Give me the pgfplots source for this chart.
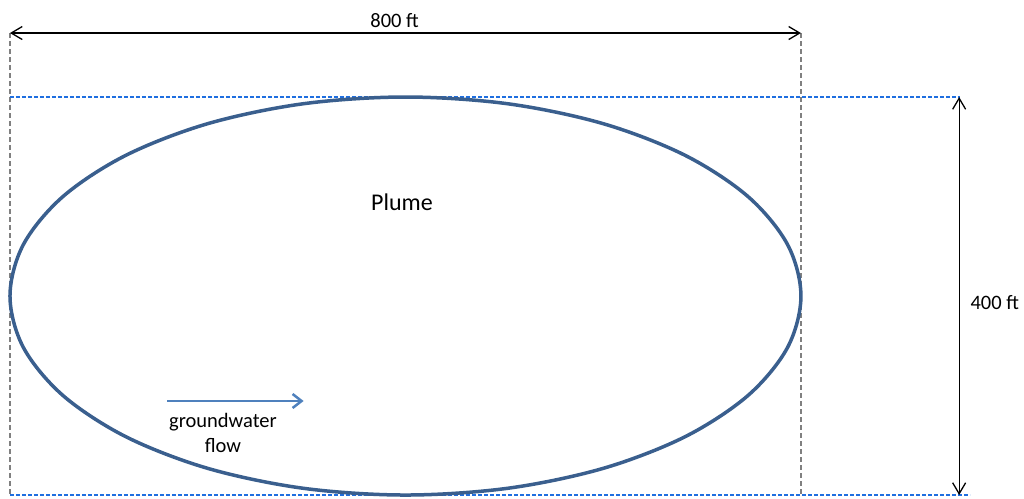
\documentclass[border=0pt]{standalone}
\usepackage{pgfplots}
\pgfplotsset{compat=1.18}
\usepackage{fontspec}
\setmainfont{Carlito}
\usetikzlibrary{arrows.meta}
\definecolor{plume}{HTML}{3A5F8E}
\definecolor{flow}{HTML}{4F81BD}
\definecolor{dblue}{HTML}{1F6FE0}
\definecolor{dgray}{HTML}{808080}
\tikzset{lab/.style={font=\fontsize{20.5}{24}\selectfont, text=black, inner sep=0pt}}
\begin{document}
\begin{tikzpicture}
\begin{axis}[
  scale only axis, width=1024pt, height=498pt,
  xmin=-10.1, xmax=1025.6, ymin=-3, ymax=497.5,
  hide axis, clip=false,
]
% frame extent
\addplot[draw=none] coordinates {(-10.1,-3) (1025.6,497.5)};
% gray dashed verticals
\addplot[dgray, line width=1.2pt, dash pattern=on 5pt off 3pt] coordinates {(0,464.3) (0,0)};
\addplot[dgray, line width=1.2pt, dash pattern=on 5pt off 3pt] coordinates {(800,464.3) (800,0)};
% blue dashed horizontals
\addplot[dblue, line width=1.2pt, dash pattern=on 4pt off 2pt] coordinates {(0,400) (961,400)};
\addplot[dblue, line width=1.2pt, dash pattern=on 4pt off 2pt] coordinates {(0,0) (971,0)};
% dimension arrows
\addplot[black, line width=1.3pt, {Straight Barb[length=11pt,width=13pt]}-{Straight Barb[length=11pt,width=13pt]}] coordinates {(0,464.3) (800,464.3)};
\addplot[black, line width=1.3pt, {Straight Barb[length=11pt,width=13pt]}-{Straight Barb[length=11pt,width=13pt]}] coordinates {(960,400) (960,0)};
% plume ellipse
\addplot[plume, line width=3.5pt, smooth cycle, tension=0.55] coordinates {
(800,200) (786.4,251.8) (746.4,300) (682.8,341.4) (600,373.2) (503.5,393.2)
(400,400) (296.5,393.2) (200,373.2) (117.2,341.4) (53.6,300) (13.6,251.8)
(0,200) (13.6,148.2) (53.6,100) (117.2,58.6) (200,26.8) (296.5,6.8)
(400,0) (503.5,6.8) (600,26.8) (682.8,58.6) (746.4,100) (786.4,148.2)};
% groundwater flow arrow
\addplot[flow, line width=2.5pt, -{Straight Barb[length=9pt,width=14pt]}] coordinates {(159,94.5) (297,94.5)};
% labels
\node[lab] at (axis cs:389,477) {800 ft};
\node[lab] at (axis cs:996,193) {400 ft};
\node[lab, font=\fontsize{24}{28}\selectfont] at (axis cs:396.5,294.5) {Plume};
\node[lab] at (axis cs:215.4,73.4) {groundwater};
\node[lab] at (axis cs:215.4,50) {flow};
\end{axis}
\end{tikzpicture}
\end{document}
